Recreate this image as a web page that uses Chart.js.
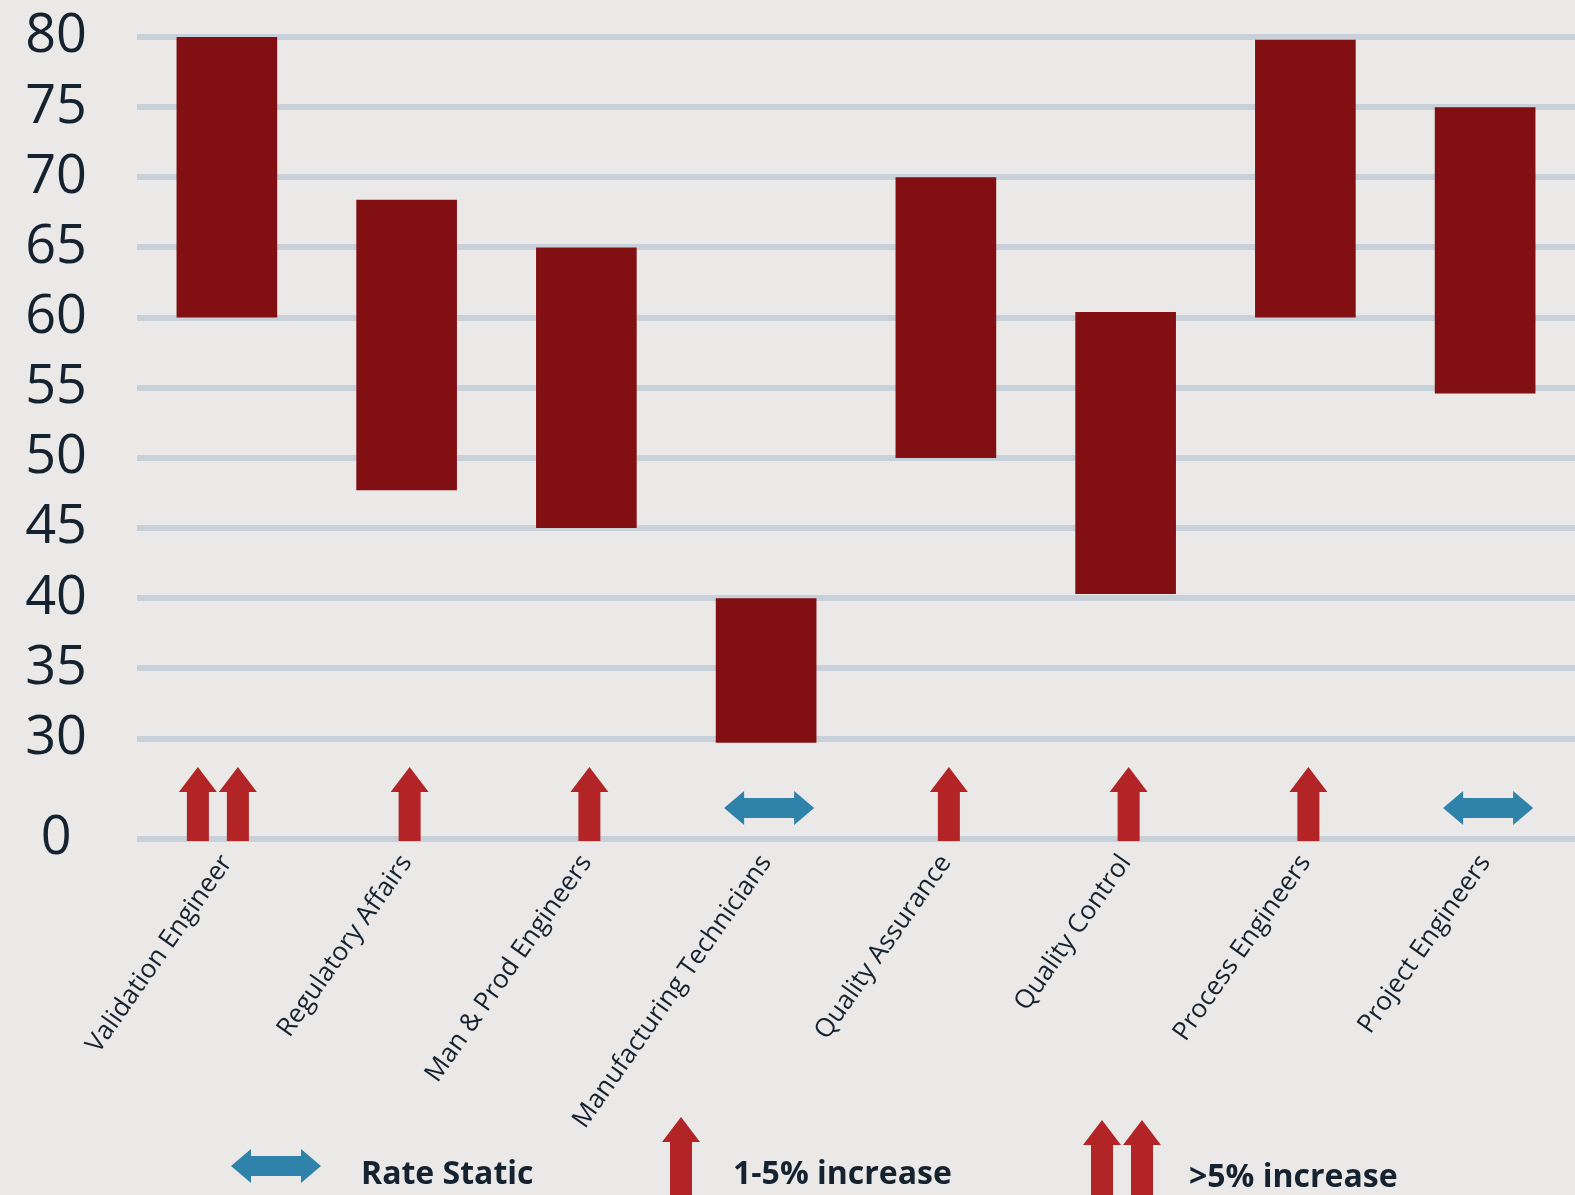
<!DOCTYPE html>
<html>
<head>
<meta charset="utf-8">
<script src="https://cdn.jsdelivr.net/npm/chart.js@4.4.1/dist/chart.umd.min.js"></script>
<style>
  html, body { margin: 0; padding: 0; background: #eae9e7; }
  #wrap { width: 1575px; height: 1195px; position: relative; }
</style>
</head>
<body>
<div id="wrap"><canvas id="chart"></canvas></div>
<script>
// ---- data ----
const roles = ['Validation Engineer', 'Regulatory Affairs', 'Man & Prod Engineers', 'Manufacturing Technicians',
               'Quality Assurance', 'Quality Control', 'Process Engineers', 'Project Engineers'];
const rateLow  = [60, 47.7, 45, 29.7, 50, 40.3, 60, 54.6];
const rateHigh = [80, 68.4, 65, 40, 70, 60.4, 79.8, 75];
// trend indicator per role: 'static' | 'up' (1-5%) | 'up2' (>5%)
const trend = ['up2', 'up', 'up', 'static', 'up', 'up', 'up', 'static'];
const yTicks = [30, 35, 40, 45, 50, 55, 60, 65, 70, 75, 80];
const axisBreak = 22.84;   // where the "0" line sits on the broken axis
const legendItems = [
  { type: 'static', label: 'Rate Static' },
  { type: 'up',     label: '1-5% increase' },
  { type: 'up2',    label: '>5% increase' }
];

const RED = '#b22425', BLUE = '#2f82aa', BAR = '#821012', INK = '#15222f';

// ---- arrow shapes ----
function upArrow(ctx, cx, top, bottom) {
  ctx.fillStyle = RED;
  ctx.beginPath();
  ctx.moveTo(cx, top);
  ctx.lineTo(cx + 19, top + 25);
  ctx.lineTo(cx + 11, top + 25);
  ctx.lineTo(cx + 11, bottom);
  ctx.lineTo(cx - 11, bottom);
  ctx.lineTo(cx - 11, top + 25);
  ctx.lineTo(cx - 19, top + 25);
  ctx.closePath();
  ctx.fill();
}
function sideArrow(ctx, cx, cy) {
  ctx.fillStyle = BLUE;
  ctx.beginPath();
  ctx.moveTo(cx - 45, cy);
  ctx.lineTo(cx - 25, cy - 17);
  ctx.lineTo(cx - 25, cy - 10);
  ctx.lineTo(cx + 25, cy - 10);
  ctx.lineTo(cx + 25, cy - 17);
  ctx.lineTo(cx + 45, cy);
  ctx.lineTo(cx + 25, cy + 17);
  ctx.lineTo(cx + 25, cy + 10);
  ctx.lineTo(cx - 25, cy + 10);
  ctx.lineTo(cx - 25, cy + 17);
  ctx.closePath();
  ctx.fill();
}
function drawIndicator(ctx, type, cx, top, bottom) {
  if (type === 'static') sideArrow(ctx, cx + 3, (top + bottom) / 2 + 4);
  else if (type === 'up') upArrow(ctx, cx + 3, top, bottom);
  else { upArrow(ctx, cx - 29, top, bottom); upArrow(ctx, cx + 11, top, bottom); }
}

const indicatorPlugin = {
  id: 'indicators',
  afterDatasetsDraw(chart) {
    const { ctx, scales: { x, y } } = chart;
    const base = y.getPixelForValue(axisBreak);
    ctx.save();
    trend.forEach((t, i) => drawIndicator(ctx, t, x.getPixelForValue(i), base - 72, base + 2));
    ctx.restore();
  }
};

const legendPlugin = {
  id: 'trendLegend',
  afterDraw(chart) {
    const { ctx } = chart;
    const slots = [{ icon: 276, text: 361 }, { icon: 678, text: 733 }, { icon: 1131, text: 1189 }];
    ctx.save();
    ctx.font = 'bold 32px "Open Sans"';
    ctx.textBaseline = 'alphabetic';
    legendItems.forEach((it, i) => {
      const s = slots[i];
      if (it.type === 'static') sideArrow(ctx, s.icon, 1166);
      else drawIndicator(ctx, it.type, s.icon, it.type === 'up' ? 1117 : 1120, 1200);
      ctx.fillStyle = INK;
      ctx.fillText(it.label, s.text, 1184 + (i === 2 ? 3 : 0));
    });
    ctx.restore();
  }
};

new Chart(document.getElementById('chart'), {
  type: 'bar',
  data: {
    labels: roles,
    datasets: [{
      label: 'Rate range',
      data: rateLow.map((lo, i) => [lo, rateHigh[i]]),
      backgroundColor: BAR,
      borderWidth: 0,
      barPercentage: 0.56,
      categoryPercentage: 1
    }]
  },
  options: {
    responsive: true,
    maintainAspectRatio: false,
    animation: false,
    layout: { padding: { top: 37, right: 0, left: 0, bottom: 0 } },
    plugins: { legend: { display: false }, tooltip: { enabled: false } },
    scales: {
      x: {
        grid: { display: false, drawTicks: false },
        border: { display: false },
        ticks: { autoSkip: false, minRotation: 55, maxRotation: 55, padding: 10, color: INK, font: { family: '"Open Sans"', size: 26 } },
        afterFit: s => { s.height = 356; s.paddingLeft = 0; s.paddingRight = 0; }
      },
      y: {
        min: axisBreak,
        max: 80,
        grid: { color: '#c8d0da', lineWidth: 6, drawTicks: false },
        border: { display: false },
        afterBuildTicks: s => { s.ticks = [axisBreak, ...yTicks].map(v => ({ value: v })); },
        ticks: {
          autoSkip: false,
          crossAlign: 'center',
          padding: 50,
          color: INK,
          font: { family: '"Open Sans"', size: 54 },
          callback: v => v === axisBreak ? '0' : v
        },
        afterFit: s => { s.width = 137; s.paddingTop = 0; s.paddingBottom = 0; }
      }
    }
  },
  plugins: [indicatorPlugin, legendPlugin]
});
</script>
</body>
</html>
